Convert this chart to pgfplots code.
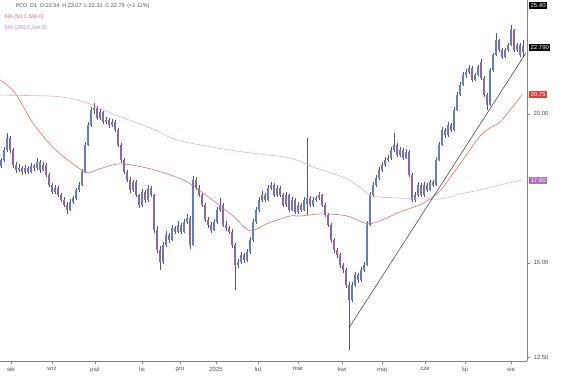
\documentclass[border=0pt]{standalone}
\usepackage{fontspec}
\setmainfont{Liberation Sans}
\usepackage{pgfplots}
\usepackage{pgfplotstable}
\pgfplotsset{compat=1.18}
\definecolor{bull}{RGB}{96,125,205}
\definecolor{bear}{RGB}{140,100,178}
\definecolor{wick}{RGB}{85,85,130}
\definecolor{maA}{RGB}{222,110,110}
\definecolor{maB}{RGB}{225,175,208}
\definecolor{axgray}{RGB}{130,130,130}
\definecolor{txtgray}{RGB}{80,80,80}
\definecolor{redbox}{RGB}{226,60,60}
\definecolor{purbox}{RGB}{176,110,190}
\pgfplotstableread{
x o h l c
1 18.10 18.38 18.02 18.30
4 18.30 18.75 18.22 18.66
7 18.66 19.27 18.58 19.10
10 19.10 19.18 18.55 18.66
13 18.66 18.74 18.02 18.12
16 18.12 18.22 17.85 17.95
19 17.95 18.15 17.88 18.00
22 18.00 18.10 17.78 17.88
25 17.88 18.12 17.80 18.00
28 18.00 18.08 17.80 17.88
31 17.88 18.20 17.84 18.08
34 18.08 18.16 17.92 18.00
37 18.00 18.35 17.95 18.23
40 18.23 18.28 17.86 17.95
43 17.95 18.22 17.90 18.12
46 18.12 18.18 17.70 17.78
49 17.78 17.85 17.36 17.44
52 17.44 17.50 17.12 17.20
55 17.20 17.45 17.14 17.34
58 17.34 17.40 17.02 17.10
61 17.10 17.18 16.86 16.94
64 16.94 17.05 16.70 16.78
67 16.78 16.86 16.50 16.62
70 16.62 16.96 16.58 16.88
73 16.88 17.08 16.80 17.00
76 17.00 17.35 16.95 17.27
79 17.27 17.55 17.20 17.44
82 17.44 17.98 17.40 17.88
85 17.88 18.95 17.85 18.84
88 18.84 19.70 18.80 19.58
91 19.58 20.28 19.50 20.15
94 20.15 20.44 20.00 20.23
97 20.23 20.30 19.75 19.85
100 19.85 20.20 19.78 20.08
103 20.08 20.12 19.60 19.70
106 19.70 19.90 19.62 19.77
109 19.77 19.84 19.48 19.58
112 19.58 19.80 19.52 19.70
115 19.70 19.76 19.30 19.39
118 19.39 19.45 18.75 18.84
121 18.84 18.90 18.20 18.30
124 18.30 18.38 17.80 17.88
127 17.88 17.95 17.52 17.61
130 17.61 17.70 17.18 17.27
133 17.27 17.62 17.20 17.54
136 17.54 17.60 17.02 17.10
139 17.10 17.15 16.68 16.78
142 16.78 17.30 16.72 17.20
145 17.20 17.25 16.85 16.94
148 16.94 17.42 16.88 17.34
151 17.34 17.40 17.02 17.10
154 17.10 17.15 15.90 15.99
157 15.99 16.10 15.28 15.38
160 15.38 15.50 14.80 15.03
163 15.03 15.62 14.98 15.53
166 15.53 15.95 15.46 15.84
169 15.84 15.90 15.58 15.69
172 15.69 16.15 15.64 16.05
175 16.05 16.10 15.85 15.93
178 15.93 16.25 15.88 16.15
181 16.15 16.20 15.85 15.93
184 15.93 16.32 15.88 16.24
187 16.24 16.48 16.18 16.37
190 16.37 16.42 15.42 15.53
193 15.53 17.75 15.50 17.61
196 17.61 17.70 17.25 17.34
199 17.34 17.42 17.02 17.10
202 17.10 17.16 16.70 16.78
205 16.78 16.85 16.22 16.30
208 16.30 16.40 16.05 16.15
211 16.15 16.22 15.90 15.99
214 15.99 16.32 15.94 16.24
217 16.24 16.70 16.18 16.62
220 16.62 17.00 16.55 16.78
223 16.78 16.85 16.08 16.15
226 16.15 16.25 15.96 16.05
229 16.05 16.12 15.85 15.93
232 15.93 16.00 15.45 15.53
235 15.53 15.60 14.24 14.94
238 14.94 15.12 14.85 15.03
241 15.03 15.32 14.96 15.23
244 15.23 15.30 15.00 15.09
247 15.09 15.40 15.02 15.32
250 15.32 15.78 15.26 15.69
253 15.69 16.32 15.62 16.24
256 16.24 16.72 16.18 16.62
259 16.62 17.05 16.55 16.94
262 16.94 17.22 16.88 17.10
265 17.10 17.16 16.86 16.94
268 16.94 17.45 16.90 17.34
271 17.34 17.55 17.28 17.44
274 17.44 17.50 17.02 17.10
277 17.10 17.42 17.05 17.34
280 17.34 17.40 17.02 17.10
283 17.10 17.16 16.70 16.78
286 16.78 17.20 16.72 17.10
289 17.10 17.15 16.55 16.62
292 16.62 17.02 16.58 16.94
295 16.94 17.00 16.48 16.56
298 16.56 16.88 16.50 16.78
301 16.78 16.84 16.55 16.62
304 16.62 17.02 16.58 16.94
307 16.80 19.10 16.45 17.00
310 17.00 17.06 16.70 16.78
313 16.78 17.02 16.72 16.94
316 16.94 17.08 16.88 17.00
319 17.00 17.20 16.95 17.10
322 17.10 17.15 16.70 16.78
325 16.78 16.85 16.38 16.46
328 16.46 16.52 16.08 16.15
331 16.15 16.20 15.60 15.69
334 15.69 15.75 15.30 15.38
337 15.38 15.45 15.15 15.23
340 15.23 15.30 14.86 14.94
343 14.94 15.00 14.72 14.80
346 14.80 14.86 14.30 14.38
349 14.38 14.45 12.68 13.97
352 13.97 14.46 13.90 14.38
355 14.38 14.75 14.32 14.66
358 14.66 14.72 14.44 14.52
361 14.52 14.88 14.46 14.80
364 14.80 15.02 14.74 14.94
367 14.94 16.25 14.90 16.15
370 16.15 17.20 16.10 17.10
373 17.10 17.55 17.04 17.44
376 17.44 17.76 17.38 17.68
379 17.68 18.05 17.62 17.95
382 17.95 18.22 17.88 18.12
385 18.12 18.40 18.06 18.30
388 18.30 18.48 18.22 18.37
391 18.37 18.75 18.30 18.66
394 18.66 19.27 18.60 18.84
397 18.84 18.90 18.40 18.48
400 18.48 18.76 18.42 18.66
403 18.66 18.72 18.30 18.37
406 18.37 18.68 18.32 18.59
409 18.59 18.64 17.70 17.78
412 17.78 17.84 16.86 16.94
415 16.94 17.20 16.88 17.10
418 17.10 17.52 17.04 17.44
421 17.44 17.50 17.02 17.10
424 17.10 17.52 17.04 17.44
427 17.44 17.50 17.20 17.27
430 17.27 17.62 17.22 17.54
433 17.54 17.60 17.36 17.44
436 17.44 18.40 17.40 18.30
439 18.30 18.95 18.25 18.84
442 18.84 19.50 18.80 19.39
445 19.39 19.45 19.10 19.20
448 19.20 19.68 19.14 19.58
451 19.58 19.64 19.30 19.39
454 19.39 20.25 19.34 20.15
457 20.15 20.85 20.10 20.75
460 20.75 21.28 20.70 21.16
463 21.16 21.68 21.10 21.57
466 21.57 21.80 21.45 21.69
469 21.69 22.00 21.60 21.86
472 21.86 21.92 21.28 21.36
475 21.36 21.66 21.30 21.57
478 21.57 21.98 21.50 21.90
481 22.10 22.24 21.35 21.45
484 21.45 21.50 20.68 20.75
487 20.75 20.82 20.15 20.35
490 20.35 21.85 20.30 21.77
493 21.77 22.50 21.70 22.41
496 22.41 23.38 22.35 23.07
499 23.07 23.12 22.55 22.63
502 22.63 22.70 22.24 22.32
505 22.32 22.72 22.26 22.63
508 22.63 22.95 22.56 22.85
511 22.85 23.75 22.80 23.52
514 23.52 23.58 22.55 22.63
517 22.63 22.95 22.56 22.85
520 22.85 22.92 22.34 22.41
523 22.54 23.07 22.31 22.79
}\candles
\begin{document}
\begin{tikzpicture}
\useasboundingbox (0,0) rectangle (564pt,380pt);
\begin{axis}[
  at={(0pt,19pt)}, anchor=south west,
  scale only axis, width=527pt, height=361pt,
  xmin=0, xmax=527, ymin=12.41, ymax=24.92,
  ymode=log,
  axis x line*=bottom, axis y line*=right,
  xtick pos=bottom, ytick pos=right, yticklabel pos=right,
  axis line style={axgray, line width=0.5pt},
  xtick={11,52,95,142,180,216,258,298,342,382,425,465,511},
  xticklabels={sie,wrz,paź,lis,gru,2025,lut,mar,kwi,maj,cze,lip,sie},
  ytick={12.5,15,20}, yticklabels={12.50,15.00,20.00},
  tick style={axgray, line width=0.4pt},
  tick align=outside, major tick length=3pt,
  yminorticks=false, xminorticks=false,
  ticklabel style={font=\fontsize{6}{7}\selectfont, text=txtgray},
  clip=false,
]
% wicks
\addplot[draw=none, mark=none, forget plot,
  error bars/.cd, y dir=plus, y explicit, error mark=none,
  error bar style={draw=wick, line width=0.45pt}]
  table[x=x, y=l, y error expr=\thisrow{h}-\thisrow{l}] {\candles};
% bullish bodies
\addplot[draw=none, mark=none, forget plot,
  x filter/.expression={\thisrow{c}<\thisrow{o} ? nan : x},
  error bars/.cd, y dir=plus, y explicit, error mark=none,
  error bar style={draw=bull, line width=1.4pt}]
  table[x=x, y=o, y error expr=\thisrow{c}-\thisrow{o}] {\candles};
% bearish bodies
\addplot[draw=none, mark=none, forget plot,
  x filter/.expression={\thisrow{c}<\thisrow{o} ? x : nan},
  error bars/.cd, y dir=plus, y explicit, error mark=none,
  error bar style={draw=bear, line width=1.4pt}]
  table[x=x, y=c, y error expr=\thisrow{o}-\thisrow{c}] {\candles};
% MA 50
\addplot[maA, line width=0.6pt, smooth, mark=none] coordinates {
(0,21.36) (15,20.83) (33,19.65) (53,18.75) (73,18.16) (87,17.85) (100,17.99)
(120,18.16) (150,17.99) (183,17.61) (203,17.17) (233,16.42) (250,15.96)
(267,16.18) (290,16.42) (300,16.42) (323,16.49) (347,16.42) (367,16.18)
(380,16.27) (400,16.55) (420,16.78) (430,16.97) (440,17.24) (450,17.68)
(460,18.16) (470,18.66) (480,19.16) (490,19.47) (500,19.69) (510,20.15) (522,20.75)};
% MA 200
\addplot[maB, line width=0.6pt, smooth, mark=none] coordinates {
(0,20.74) (50,20.70) (67,20.63) (87,20.43) (110,20.04) (150,19.47) (177,19.02)
(217,18.73) (250,18.55) (290,18.37) (313,18.05) (347,17.65) (363,17.27)
(373,17.06) (400,17.00) (440,16.97) (460,17.13) (480,17.27) (500,17.44) (522,17.60)};
% trend line
\addplot[black!80, line width=0.5pt, mark=none] coordinates {(349,13.23) (526,22.50)};
% right-side price tags
\node[fill=black, text=white, inner sep=1.4pt, anchor=west, font=\fontsize{6}{7}\selectfont] at (axis cs:529,24.64) {25.40};
\node[fill=black, text=white, inner sep=1.4pt, anchor=west, font=\fontsize{6}{7}\selectfont] at (axis cs:529,22.72) {22.790};
\node[fill=redbox, text=white, inner sep=1.4pt, anchor=west, font=\fontsize{6}{7}\selectfont] at (axis cs:529,20.75) {20.75};
\node[fill=purbox, text=white, inner sep=1.4pt, anchor=west, font=\fontsize{6}{7}\selectfont] at (axis cs:529,17.60) {17.60};
\end{axis}
\node[anchor=west, font=\fontsize{5.5}{6}\selectfont, text=txtgray] at (12pt,374pt) {PCO\enspace D1\enspace O:22.54\enspace H:23.07\enspace L:22.31\enspace C:22.79\enspace (+1.11\%)};
\node[anchor=west, font=\fontsize{5.5}{6}\selectfont, text=maA] at (1pt,363pt) {MA (50,C,MA,0)};
\node[anchor=west, font=\fontsize{5.5}{6}\selectfont, text=purbox!80] at (1pt,352pt) {MA (200,C,MA,0)};
\end{tikzpicture}
\end{document}
